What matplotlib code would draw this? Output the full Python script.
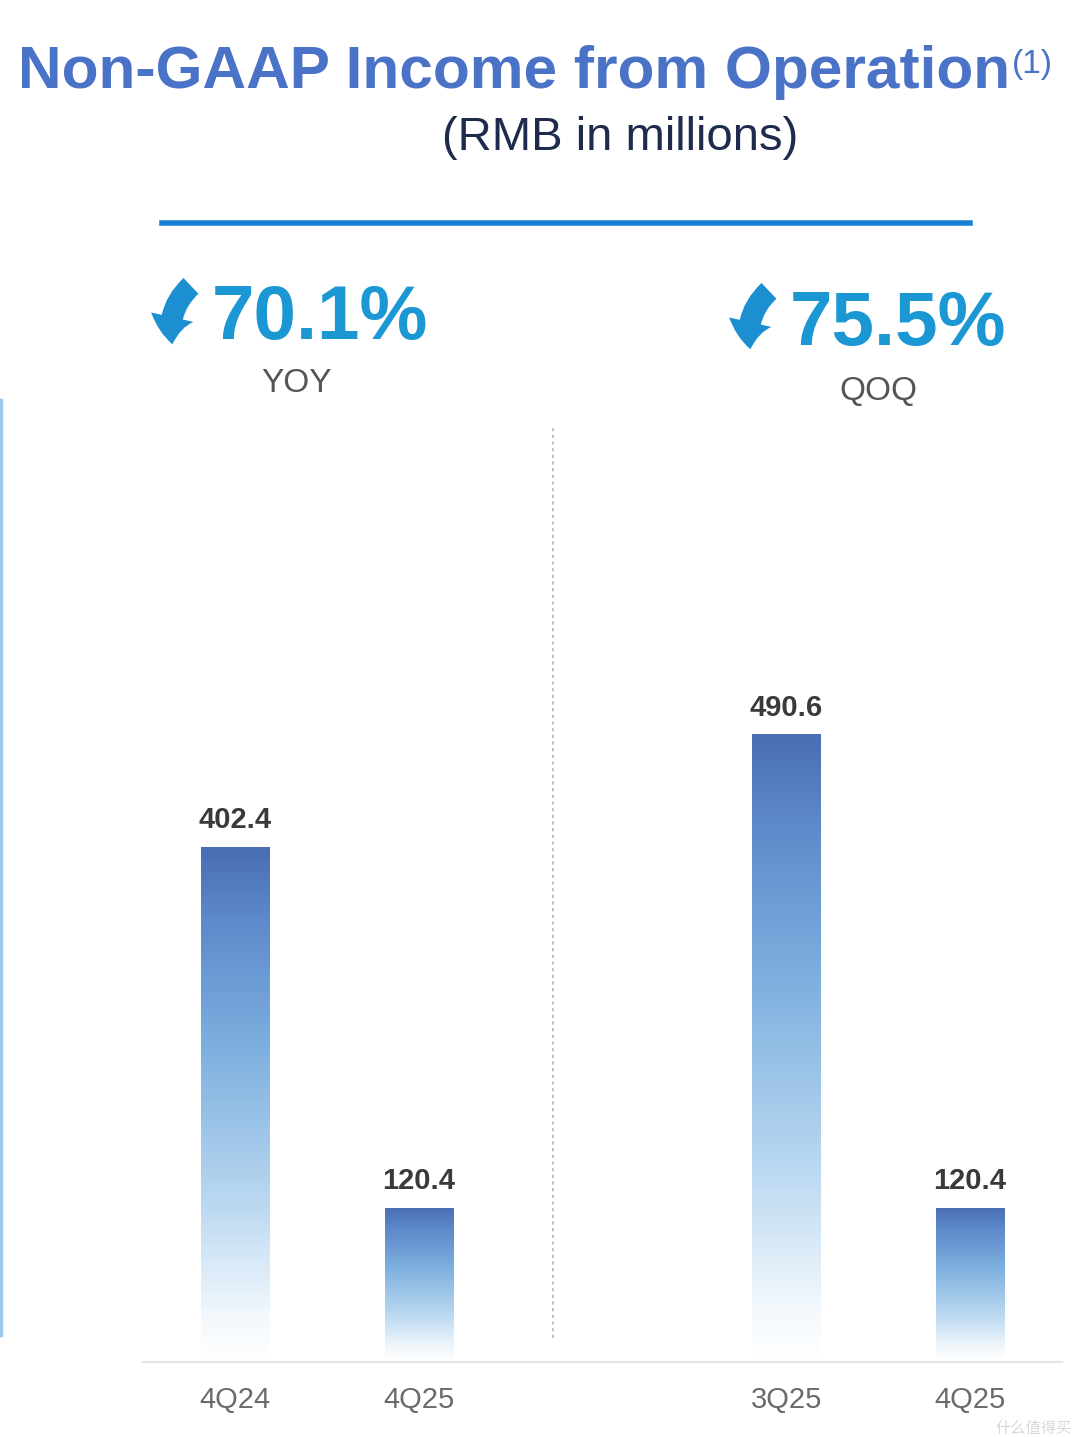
import numpy as np
import matplotlib
matplotlib.use("Agg")
import matplotlib.pyplot as plt
from matplotlib.colors import LinearSegmentedColormap
from matplotlib.patches import FancyArrowPatch
from matplotlib.lines import Line2D

# ---- data ----
categories = ["4Q24", "4Q25", "3Q25", "4Q25"]
positions = [0, 1, 3, 4]
values = [402.4, 120.4, 490.6, 120.4]
changes = ["70.1%", "75.5%"]
change_labels = ["YOY", "QOQ"]
title = "Non-GAAP Income from Operation"
subtitle = "(RMB in millions)"

W, H = 1080, 1437
fig = plt.figure(figsize=(W / 100, H / 100), dpi=100)
fig.patch.set_facecolor("white")
plt.rcParams["font.family"] = ["Liberation Sans", "DejaVu Sans"]


def fx(px):
    return px / W


def fy(py):
    return 1 - py / H


# ---- axes ----
ax = fig.add_axes([fx(143), fy(1362), fx(1062) - fx(143), (1362 - 420) / H])
ax.set_xlim(-0.5, 4.5)
ax.set_ylim(0, 942 / 1.28)
for s in ["top", "right", "left"]:
    ax.spines[s].set_visible(False)
ax.spines["bottom"].set_color("#e1e5ec")
ax.spines["bottom"].set_linewidth(1.6)
ax.set_yticks([])
ax.set_xticks(positions)
ax.set_xticklabels(categories, fontsize=21, color="#6b6b6b")
ax.tick_params(axis="x", length=0, pad=17)
ax.patch.set_alpha(0)

cmap = LinearSegmentedColormap.from_list(
    "barg",
    [(0.0, "#ffffff"), (0.08, "#f4f9fd"), (0.3, "#bcd9f1"),
     (0.6, "#7fb1e0"), (0.85, "#5d8bcb"), (1.0, "#4a6db4")])
grad = np.linspace(0, 1, 256).reshape(-1, 1)
bw = 0.37
bars = ax.bar(positions, values, width=bw, color="none", edgecolor="none")
for b, v in zip(bars, values):
    x0 = b.get_x()
    im = ax.imshow(grad, cmap=cmap, origin="lower", aspect="auto",
                   extent=[x0, x0 + b.get_width(), 0, v], zorder=2)
    im.set_clip_path(b)
    ax.annotate(f"{v:.1f}", (b.get_x() + b.get_width() / 2, v),
                xytext=(0, 9), textcoords="offset points",
                ha="center", va="bottom", fontsize=21, fontweight="bold",
                color="#3a3a3a")
ax.set_xlim(-0.5, 4.5)
ax.set_ylim(0, 942 / 1.28)

# divider
ax.plot([1.73, 1.73], [24 / 1.28, 937 / 1.28], ls=(0, (2, 2)), lw=1.2,
        color="#a9b9d6", zorder=1)

# left vertical line
fig.add_artist(Line2D([fx(1), fx(1)], [fy(400), fy(1335)], color="#9cc6ea",
                      lw=2.5))

# ---- titles ----
t = fig.text(fx(18), fy(73), title, ha="left", va="center", fontsize=48,
             fontweight="bold", color="#4a72c6")
fig.canvas.draw()
r = fig.canvas.get_renderer()
wpx = t.get_window_extent(r).width
t.set_fontsize(48 * 990 / wpx)
fig.text(fx(1012), fy(64), "(1)", ha="left", va="center", fontsize=24,
         color="#4a72c6")
fig.text(fx(620), fy(138), subtitle, ha="center", va="center", fontsize=34,
         color="#1e2b4d")
fig.add_artist(Line2D([fx(162), fx(970)], [fy(223), fy(223)],
                      color="#1a80d6", lw=4))

# ---- change figures ----
for cx, cy, txt, lx, ly, lab, ax0 in [
        (320, 320, changes[0], 296, 384, change_labels[0], 175),
        (898, 325, changes[1], 878, 392, change_labels[1], 753)]:
    fig.text(fx(cx), fy(cy), txt, ha="center", va="center", fontsize=55,
             fontweight="bold", color="#1b97d4")
    fig.text(fx(lx), fy(ly), lab, ha="center", va="center", fontsize=24,
             color="#555555")
    arr = FancyArrowPatch((fx(ax0 + 18), fy(cy - 36)), (fx(ax0 - 2), fy(cy + 27)),
                          transform=fig.transFigure,
                          arrowstyle="simple,head_width=2.4,head_length=1.5,tail_width=1.2",
                          connectionstyle="arc3,rad=0.3",
                          mutation_scale=13, color="#1b8fcf", lw=0)
    fig.add_artist(arr)

# watermark
fig.text(fx(1072), fy(1428), "什么值得买", ha="right", va="center", fontsize=11,
         color="#d8d8d8", family=["Noto Sans CJK SC", "DejaVu Sans"])

fig.savefig("out.png", dpi=100, facecolor="white")
